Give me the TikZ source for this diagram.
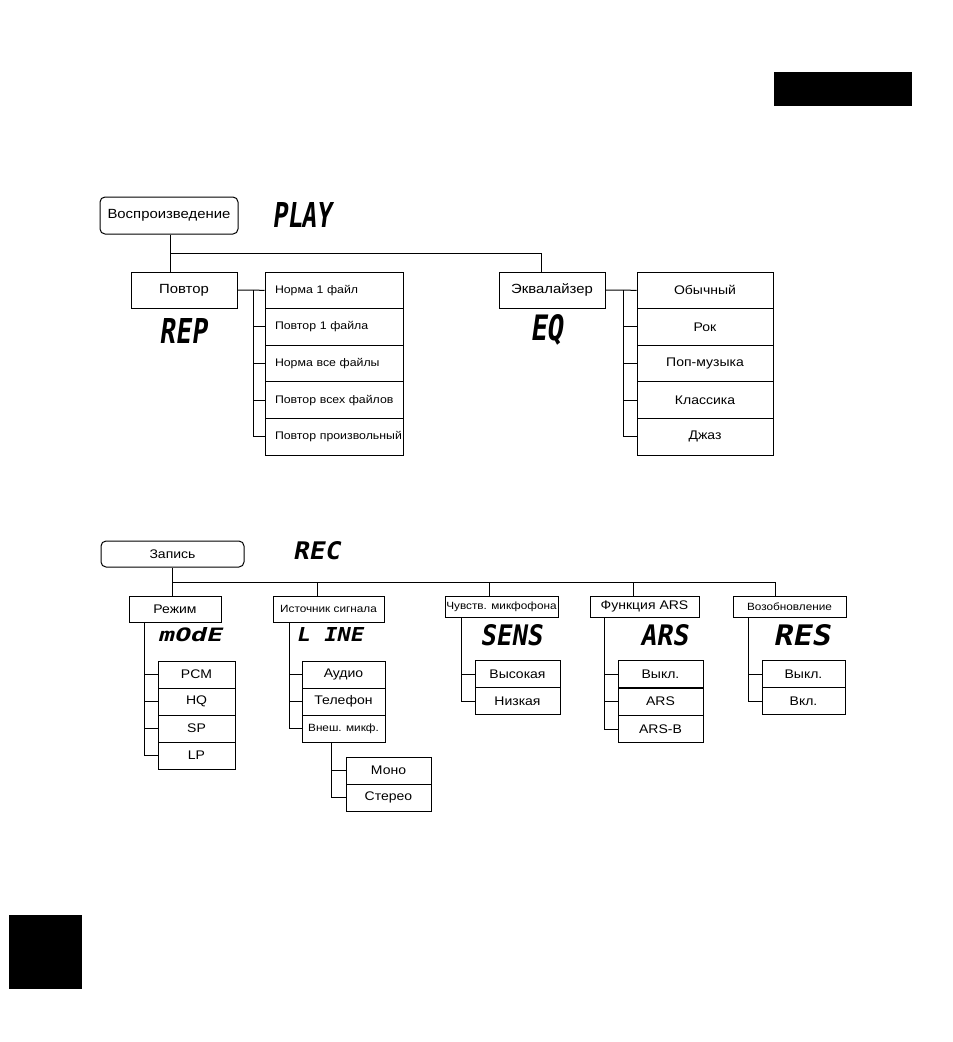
\documentclass[tikz,border=0pt]{standalone}
\usepackage{fontspec}
\usepackage{graphicx}
\setmainfont{Liberation Sans}[FakeStretch=1.12]
\newfontfamily\lcdfont{DejaVu Sans Mono}[FakeSlant=0.18]
\newcommand\fsz[1]{\fontsize{#1}{#1}\selectfont}
\newcommand\lcdtext[3]{\resizebox{#1pt}{#2pt}{\lcdfont\bfseries #3}}
\begin{document}
\begin{tikzpicture}[x=1pt,y=-1pt,
  ln/.style={line width=1pt},
  box/.style={draw,line width=1pt,inner sep=0pt,anchor=center},
  bx/.style 2 args={box,minimum width=#1,minimum height=#2},
  rbx/.style 2 args={bx={#1}{#2},rounded corners=5pt},
  lbx/.style 2 args={bx={#1}{#2},text width=#1-20pt,align=left},
  lcd/.style={inner sep=0pt,anchor=center}]
\useasboundingbox (0,0) rectangle (953,1042);
% black tabs
\fill (774,72) rectangle (912,106);
\fill (9,915) rectangle (82,989);

% ===== PLAY =====
\node[rbx={138}{37},font=\fsz{13.3}] (vosp) at (169,215.5) {Воспроизведение};
\node[lcd] (play) at (302,214.5) {\lcdtext{60}{25}{PLAY}};
\node[bx={106}{36},font=\fsz{13.3}] (povtor) at (184,290) {Повтор};
\node[lcd] (rep) at (183.5,330.5) {\lcdtext{47}{25}{REP}};
\node[bx={106}{36},font=\fsz{13.3}] (eqh) at (552,290) {Эквалайзер};
\node[lcd] (eqlcd) at (546.5,330) {\lcdtext{33}{26}{EQ}};

\begin{scope}[every node/.style={lbx={138}{36.6},font=\fsz{11}}]
\node (a1) at (334,290.3) {\mbox{Норма 1 файл}};
\node (a2) at (334,326.9) {\mbox{Повтор 1 файла}};
\node (a3) at (334,363.5) {\mbox{Норма все файлы}};
\node (a4) at (334,400.1) {\mbox{Повтор всех файлов}};
\node (a5) at (334,436.7) {\mbox{Повтор произвольный}};
\end{scope}
\begin{scope}[every node/.style={bx={136}{36.6},font=\fsz{12.5}}]
\node (b1) at (705,290.3) {Обычный};
\node (b2) at (705,326.9) {Рок};
\node (b3) at (705,363.5) {Поп-музыка};
\node (b4) at (705,400.1) {Классика};
\node (b5) at (705,436.7) {Джаз};
\end{scope}

\coordinate (jA) at (170,253);
\coordinate (jB) at (541,253);
\draw[ln] (vosp.south -| jA) -- (povtor.north -| jA);
\draw[ln] (jA) -- (jB) -- (jB |- eqh.north);
\coordinate (bA) at (253,0);
\draw[ln] (povtor.east) -- (a1.west);
\draw[ln] (bA |- a1.west) |- (a5.west);
\foreach \n in {a2,a3,a4} \draw[ln] (bA |- \n.west) -- (\n.west);
\coordinate (bB) at (623,0);
\draw[ln] (eqh.east) -- (b1.west);
\draw[ln] (bB |- b1.west) |- (b5.west);
\foreach \n in {b2,b3,b4} \draw[ln] (bB |- \n.west) -- (\n.west);

% ===== REC =====
\node[rbx={143}{26},font=\fsz{12.5}] (zapis) at (172.5,554) {Запись};
\node[lcd] (rec) at (316.5,551) {\lcdtext{47}{18}{REC}};

\node[bx={92}{26},font=\fsz{12.5}] (modeh) at (175,609) {Режим};
\node[bx={111}{26},font=\fsz{10.5}] (srch) at (328.5,609) {Источник сигнала};
\node[bx={113}{21},font=\fsz{10.5}] (sensh) at (501.5,606.5) {Чувств. микфофона};
\node[bx={109}{21},font=\fsz{12.5}] (arsh) at (644.5,606.5) {Функция ARS};
\node[bx={113}{21},font=\fsz{10.5}] (resh) at (789.5,606.5) {Возобновление};

\node[lcd] (modelcd) at (190,634.5) {\lcdtext{64}{14}{mOdE}};
\node[lcd] (linelcd) at (329.5,634.5) {\lcdtext{67}{14}{L INE}};
\node[lcd] (senslcd) at (511,635.5) {\lcdtext{62}{21}{SENS}};
\node[lcd] (arslcd) at (664,635.5) {\lcdtext{48}{21}{ARS}};
\node[lcd] (reslcd) at (801.5,635.5) {\lcdtext{57}{21}{RES}};

\begin{scope}[every node/.style={bx={77}{27},font=\fsz{12.5}}]
\node (m1) at (196.5,674.5) {PCM};
\node (m2) at (196.5,701.5) {HQ};
\node (m3) at (196.5,728.5) {SP};
\node (m4) at (196.5,755.5) {LP};
\end{scope}
\begin{scope}[every node/.style={bx={83}{27},font=\fsz{12.5}}]
\node (s1) at (343.5,674.5) {Аудио};
\node (s2) at (343.5,701.5) {Телефон};
\node[font=\fsz{10.5}] (s3) at (343.5,728.5) {Внеш. микф.};
\end{scope}
\begin{scope}[every node/.style={bx={85}{27},font=\fsz{12.5}}]
\node (x1) at (388.5,770.5) {Моно};
\node (x2) at (388.5,797.5) {Стерео};
\node (c1) at (517.5,674) {Высокая};
\node (c2) at (517.5,701) {Низкая};
\node (r1) at (660.5,674) {Выкл.};
\node (r2) at (660.5,701.5) {ARS};
\node (r3) at (660.5,729) {ARS-B};
\end{scope}
\begin{scope}[every node/.style={bx={83}{27},font=\fsz{12.5}}]
\node (e1) at (803.5,674) {Выкл.};
\node (e2) at (803.5,701) {Вкл.};
\end{scope}

\coordinate (jZ) at (172,582);
\coordinate (kS) at (317,582);
\coordinate (kC) at (489,582);
\coordinate (kA) at (633,582);
\coordinate (kR) at (775,582);
\draw[ln] (zapis.south -| jZ) -- (jZ |- modeh.north);
\draw[ln] (jZ) -- (kR) -- (kR |- resh.north);
\draw[ln] (kS) -- (kS |- srch.north);
\draw[ln] (kC) -- (kC |- sensh.north);
\draw[ln] (kA) -- (kA |- arsh.north);

\coordinate (bM) at (144,0);
\draw[ln] (bM |- modeh.south) |- (m4.west);
\foreach \n in {m1,m2,m3} \draw[ln] (bM |- \n.west) -- (\n.west);
\coordinate (bS) at (289,0);
\draw[ln] (bS |- srch.south) |- (s3.west);
\foreach \n in {s1,s2} \draw[ln] (bS |- \n.west) -- (\n.west);
\coordinate (bX) at (331,0);
\draw[ln] (bX |- s3.south) |- (x2.west);
\draw[ln] (bX |- x1.west) -- (x1.west);
\coordinate (bC) at (461,0);
\draw[ln] (bC |- sensh.south) |- (c2.west);
\draw[ln] (bC |- c1.west) -- (c1.west);
\coordinate (bR) at (604,0);
\draw[ln] (bR |- arsh.south) |- (r3.west);
\foreach \n in {r1,r2} \draw[ln] (bR |- \n.west) -- (\n.west);
\coordinate (bE) at (748,0);
\draw[ln] (bE |- resh.south) |- (e2.west);
\draw[ln] (bE |- e1.west) -- (e1.west);
\end{tikzpicture}
\end{document}
